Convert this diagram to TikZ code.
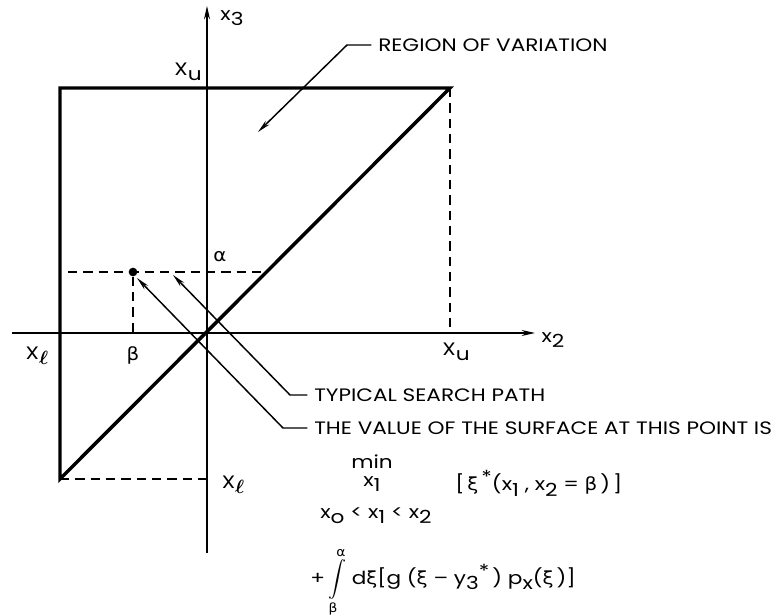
\documentclass[tikz,border=0pt]{standalone}
\usepackage{amsmath,amssymb}
\usepackage{fontspec}
\setmainfont[FakeStretch=1.2]{Poppins}
\newfontfamily\grk[FakeStretch=1.1]{DejaVu Sans}
\newcommand{\salpha}{\text{\grk α}}
\newcommand{\sbeta}{\text{\grk β}}
\newcommand{\dn}[1]{\raisebox{-0.55ex}{#1}}
\newcommand{\upr}[1]{\raisebox{0.75ex}{#1}}
\usetikzlibrary{arrows.meta,positioning}

\begin{document}
\begin{tikzpicture}[x=0.75pt, y=-0.75pt,
    lbl/.style={inner sep=0pt, font=\fontsize{13.5}{15}\selectfont},
    bound/.style={line width=2.6pt, line join=miter},
    guide/.style={line width=1.3pt, dash pattern=on 7pt off 4.5pt},
    axis/.style={line width=1.1pt, -{Stealth[length=10pt, width=4.5pt]}},
    lead/.style={line width=1.1pt, -{Stealth[length=10pt, width=4pt]}, shorten <=5pt},
]
\useasboundingbox (0,0) rectangle (773,616);

% axes
\coordinate (o) at (207,333);
\coordinate (h0) at (12,333);
\coordinate (h1) at (535,333);
\coordinate (v0) at (207,553);
\coordinate (v1) at (207,6);
\draw[axis] (h0) -- (h1);
\draw[axis] (v0) -- (v1);

% region of variation
\coordinate (tl) at (60,88);
\coordinate (tr) at (450,88);
\coordinate (bl) at (60,479);
\draw[bound] (bl) -- (tl) -- (tr) -- cycle;
\draw[guide] (tr) -- (tr |- o);
\draw[guide] (bl) -- (bl -| o);

% point on the surface
\node[circle, fill, inner sep=0pt, minimum size=6.5pt] (pt) at (133,272) {};
\coordinate (ha) at (68,272);
\coordinate (hb) at (266,272);
\draw[guide] (ha) -- (hb);
\draw[guide] (pt) -- (pt |- o);

% axis labels
\node[lbl] (x3lbl) at (232,18) {x\dn{3}};
\node[lbl] (x2lbl) at (553,340) {x\dn{2}};
\node[lbl] (xutop) at (188,72) {X\dn{u}};
\node[lbl] (xuright) at (456,352) {X\dn{u}};
\node[lbl] (xlleft) at (37,356) {X\dn{$\boldsymbol{\ell}$}};
\node[lbl] (xlbot) at (233,485) {X\dn{$\boldsymbol{\ell}$}};
\node[lbl] (betalbl) at (133,355) {$\sbeta$};
\node[lbl] (alphalbl) at (220,257) {$\salpha$};

% callouts
\node[lbl, anchor=west] (regtxt) at (378,45) {REGION OF VARIATION};
\node[lbl, anchor=west] (pathtxt) at (314,395) {TYPICAL SEARCH PATH};
\node[lbl, anchor=west] (valtxt) at (314,428) {THE VALUE OF THE SURFACE AT THIS POINT IS};
\coordinate (regbend) at (347,45);
\coordinate (regtip) at (258,132);
\coordinate (pathbend) at (290,395);
\coordinate (pathtip) at (173,275);
\coordinate (valbend) at (283,428);
\coordinate (valtip) at (137,278);
\draw[lead] (regtxt.west) -- (regbend) -- (regtip);
\draw[lead] (pathtxt.west) -- (pathbend) -- (pathtip);
\draw[lead] (valtxt.west) -- (valbend) -- (valtip);

% value of the surface
\node[lbl] (minop) at (372,462) {min};
\node[lbl] (minvar) at (372,484) {x\dn{1}};
\node[lbl] (mincond) at (376,516) {x\dn{o} < x\dn{1} < x\dn{2}};
\node[lbl, anchor=west] (minarg) at (455,483)
    {[\,{\grk ξ}\,\upr{*}(x\dn{1} , x\dn{2} = {\grk β}\,)\,]};
\node[lbl, anchor=west] (integ) at (310,582)
    {+\,$\displaystyle\int\limits_{\sbeta}^{\salpha}$ d{\grk ξ}[g ({\grk ξ} – y\dn{3}\upr{*}\,) p\dn{x}({\grk ξ}\,)]};
\end{tikzpicture}
\end{document}
